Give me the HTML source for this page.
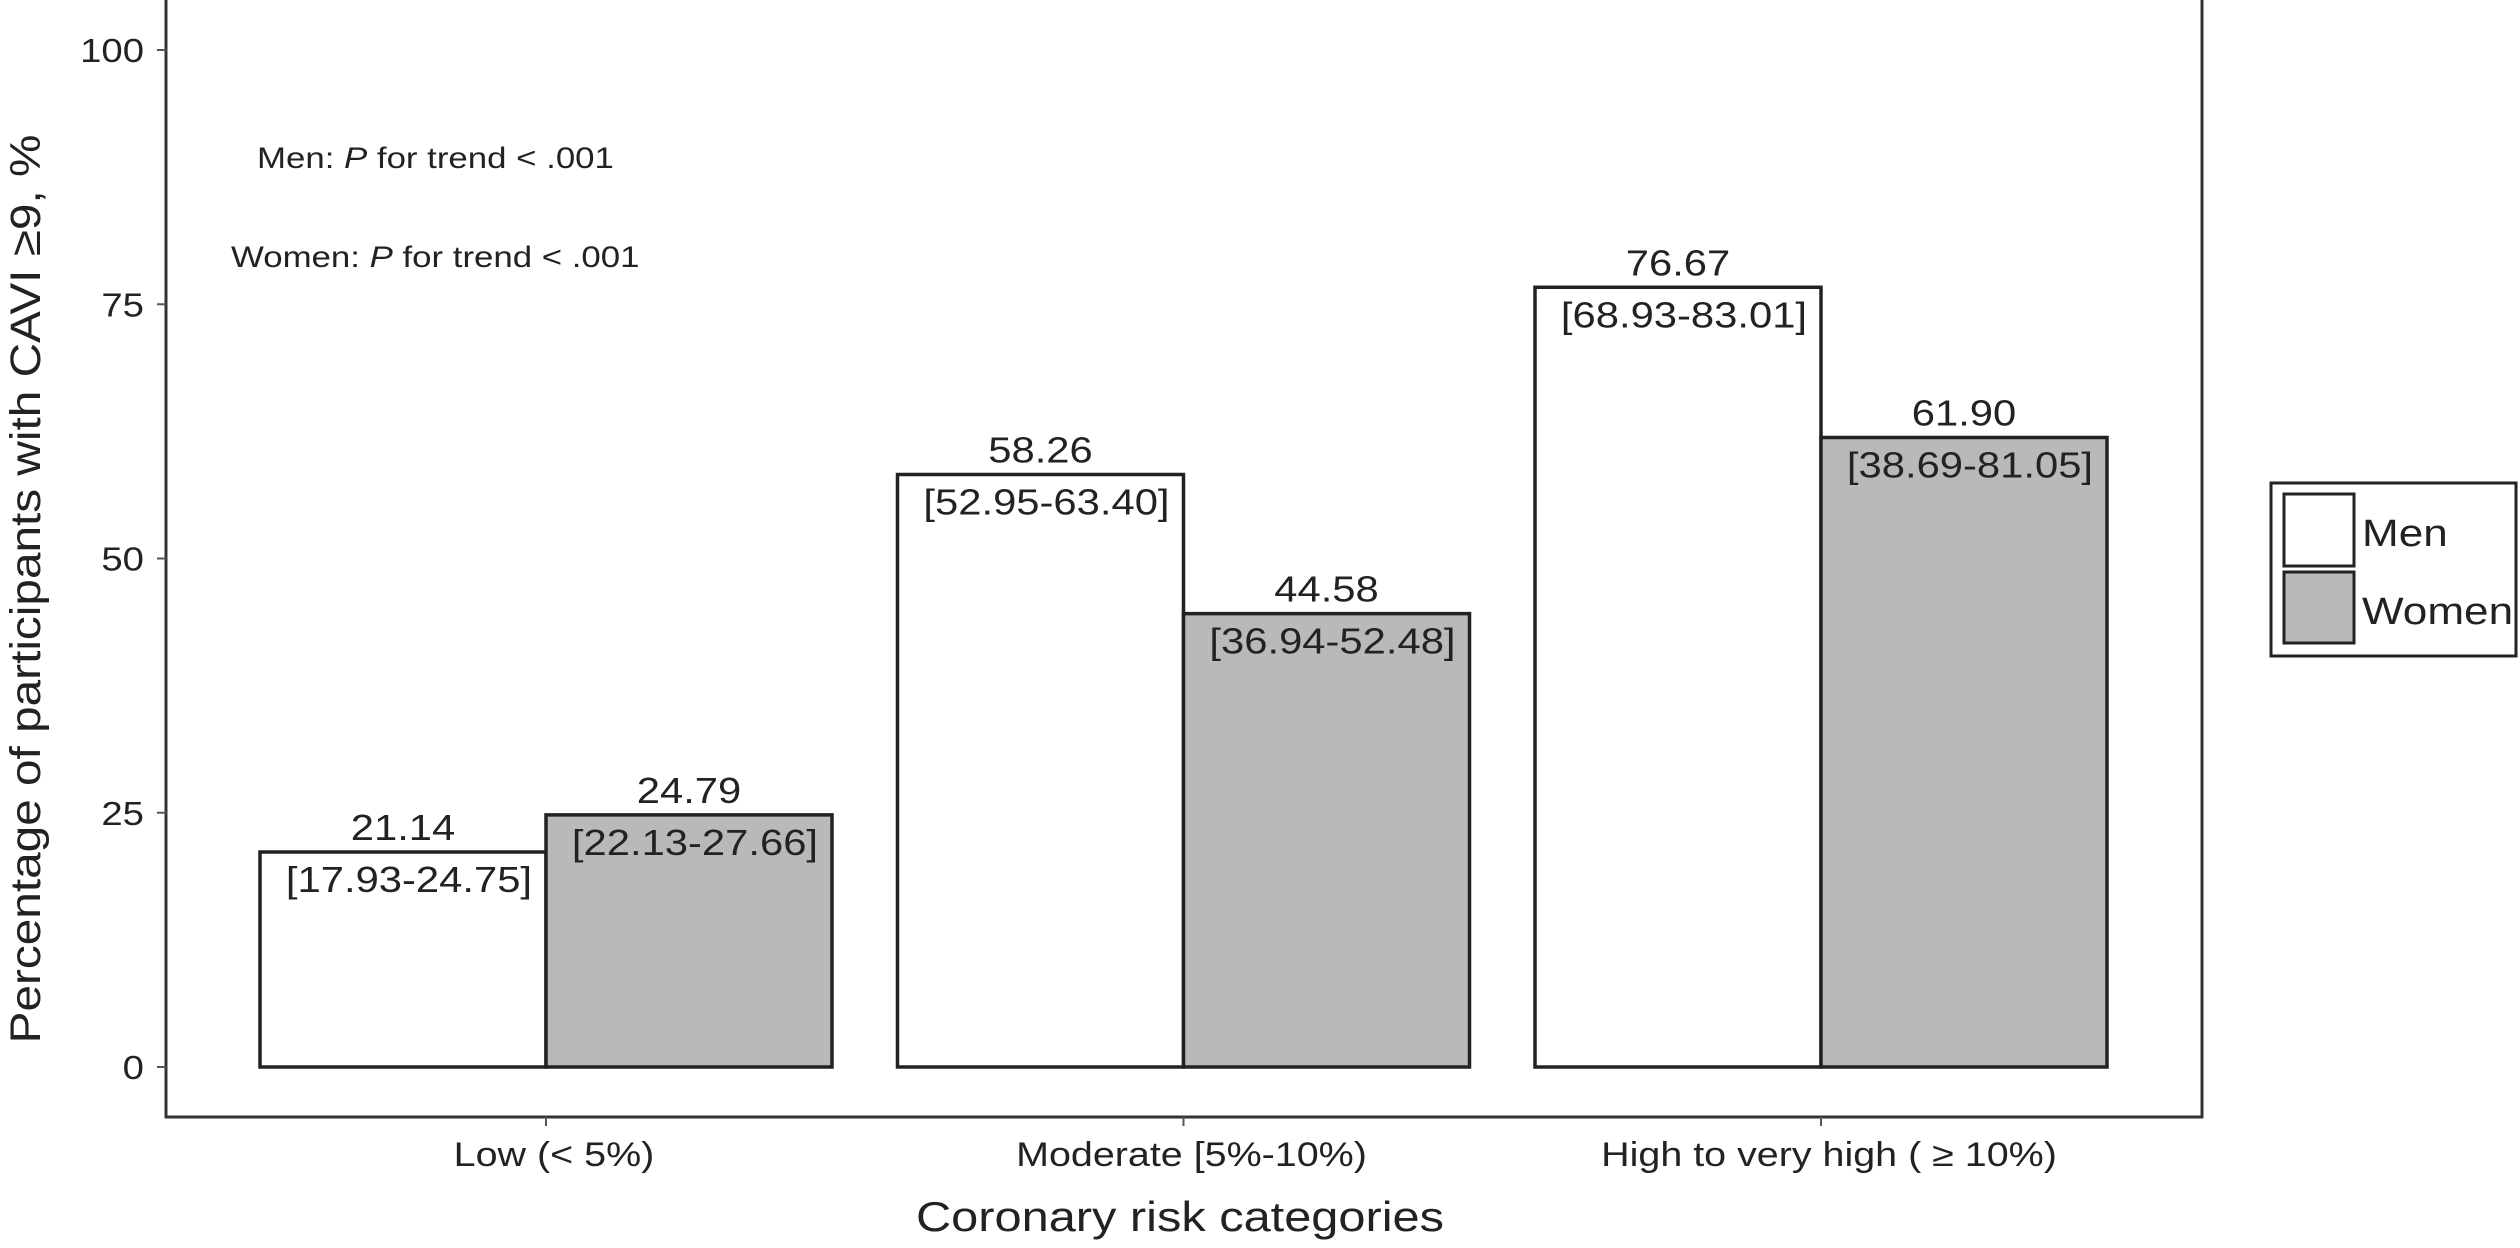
<!DOCTYPE html>
<html><head><meta charset="utf-8"><style>
html,body{margin:0;padding:0;background:#fff;}
svg{display:block;font-family:"Liberation Sans",Arial,sans-serif;}
</style></head><body>
<svg id="chart" width="2520" height="1248" viewBox="0 0 2520 1248" xmlns="http://www.w3.org/2000/svg">
<rect x="0" y="0" width="2520" height="1248" fill="#fff"/>
<g id="plot"></g>
<g>
<rect x="2271" y="483" width="245" height="173" fill="#fff" stroke="#222" stroke-width="3"/>
<rect x="2284" y="494" width="70" height="72" fill="#fff" stroke="#222" stroke-width="3"/>
<rect x="2284" y="572" width="70" height="71" fill="#b8b9bb" stroke="#222" stroke-width="3"/>
<text x="2362" y="546" font-size="38" fill="#222">Men</text>
<text x="2362" y="624" font-size="38" fill="#222">Women</text>
</g>
<text x="257" y="168" font-size="30" fill="#222">Men: <tspan font-style="italic">P</tspan> for trend &lt; .001</text>
<text x="231" y="267" font-size="30" fill="#222">Women: <tspan font-style="italic">P</tspan> for trend &lt; .001</text>
<text id="ytitle" transform="translate(40,589) rotate(-90)" text-anchor="middle" font-size="43" fill="#222">Percentage of participants with CAVI ≥9, %</text>
<text x="1180" y="1231" text-anchor="middle" font-size="42" fill="#222">Coronary risk categories</text>
</svg>
<script>
const categories = ["Low (< 5%)", "Moderate [5%-10%)", "High to very high ( \u2265 10%)"];
const menValues = [21.14, 58.26, 76.67];
const womenValues = [24.79, 44.58, 61.90];
const menCI = ["[17.93-24.75]", "[52.95-63.40]", "[68.93-83.01]"];
const womenCI = ["[22.13-27.66]", "[36.94-52.48]", "[38.69-81.05]"];
const yTicks = [0, 25, 50, 75, 100];

const NS = "http://www.w3.org/2000/svg";
const g = document.getElementById("plot");
const X0 = 166, X1 = 2202, Y0 = 1067, Y100 = 50, XAX = 1117;
const yScale = v => Y0 - (Y0 - Y100) * v / 100;
const catCenter = i => 546 + i * 637.5;
const barW = 286;
function mk(tag, attrs) { const e = document.createElementNS(NS, tag); for (const k in attrs) e.setAttribute(k, attrs[k]); g.appendChild(e); return e; }

let fr = mk("path", {d:`M${X0},-5 V${XAX} H${X1} V-5`, fill:"none", stroke:"#333", "stroke-width":3});



yTicks.forEach(t => {
  const y = yScale(t);
  const tk = mk("line", {x1:X0-9, x2:X0, y1:y, y2:y, stroke:"#555", "stroke-width":2});
  
  
  const lb = mk("text", {x:X0-22, y:y+12, "text-anchor":"end", "font-size":33, fill:"#222"});
  lb.textContent = t;
  
  
});

categories.forEach((c, i) => {
  const cx = catCenter(i);
  const tk = mk("line", {x1:cx, x2:cx, y1:XAX, y2:XAX+9, stroke:"#555", "stroke-width":2});
  
  
  const lb = mk("text", {x:cx + 8, y:1166, "text-anchor":"middle", "font-size":34, fill:"#222"});
  lb.textContent = c;
  
  

  [[menValues, menCI, "#fff", cx - barW, "men"], [womenValues, womenCI, "#b8b9bb", cx, "women"]].forEach(([vals, ci, fill, x, s]) => {
    const top = yScale(vals[i]);
    const r = mk("rect", {x:x, y:top, width:barW, height:Y0 - top, fill:fill, stroke:"#222", "stroke-width":3.5});
    
    
    const vt = mk("text", {x:x + barW/2, y:top - 12, "text-anchor":"middle", "font-size":36, fill:"#222"});
    vt.textContent = vals[i].toFixed(2);
    
    
    const ct = mk("text", {x:x + barW/2 + 6, y:top + 40, "text-anchor":"middle", "font-size":36, fill:"#222"});
    ct.textContent = ci[i];
    
    
  });
});

// reference font is horizontally wider; stretch text
document.querySelectorAll("#chart text").forEach(t => {
  const k = t.id === "ytitle" ? 1.11 : 1.16;
  const L = t.getComputedTextLength();
  t.setAttribute("textLength", (L * k).toFixed(1));
  t.setAttribute("lengthAdjust", "spacingAndGlyphs");
});
</script>
</body></html>
